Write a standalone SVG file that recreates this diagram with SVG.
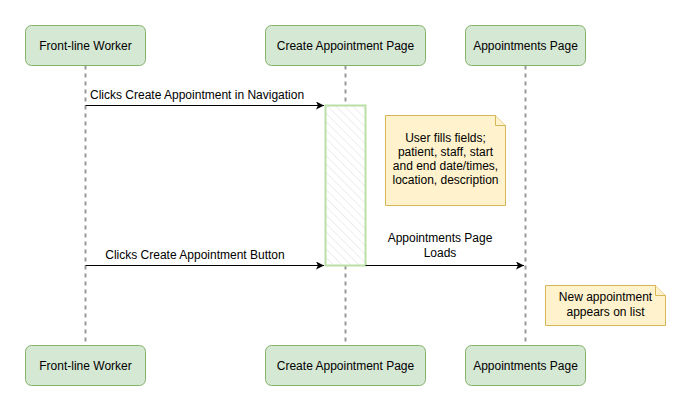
<svg xmlns="http://www.w3.org/2000/svg" width="691" height="411" viewBox="0 0 691 411">
<style>
text{font-family:"Liberation Sans",Arial,sans-serif;font-size:12px;fill:#000}
.actor rect{fill:#d5e8d4;stroke:#82b366;stroke-width:1}
.life{stroke:#999;stroke-width:2;stroke-dasharray:4 4;fill:none}
.msg{stroke:#000;stroke-width:1;fill:none}
.note path{fill:#fff2cc;stroke:#d6b656;stroke-width:1}
</style>
<defs>
<pattern id="hatch" patternUnits="userSpaceOnUse" width="6" height="6" patternTransform="rotate(-45)">
<rect width="6" height="6" fill="#fff"/>
<line x1="0" y1="0" x2="0" y2="6" stroke="#ddd" stroke-width="1"/>
</pattern>
<marker id="arr" markerWidth="10" markerHeight="10" refX="8" refY="4" orient="auto" markerUnits="userSpaceOnUse">
<path d="M0,0 L8,4 L0,8 L2,4 Z" fill="#000"/>
</marker>
</defs>
<g id="lifelines">
<line class="life" x1="85.5" y1="65.5" x2="85.5" y2="345.5"/>
<line class="life" x1="345.5" y1="65.5" x2="345.5" y2="345.5"/>
<line class="life" x1="525.5" y1="65.5" x2="525.5" y2="345.5"/>
</g>
<g id="activation">
<rect x="325.5" y="105.5" width="40" height="160" fill="url(#hatch)" stroke="#b9e0a5" stroke-width="2"/>
</g>
<g id="worker-top" class="actor"><rect x="25.5" y="25.5" width="120" height="40" rx="6"/><text x="85.5" y="49.5" text-anchor="middle">Front-line Worker</text></g>
<g id="create-top" class="actor"><rect x="265.5" y="25.5" width="160" height="40" rx="6"/><text x="345.5" y="49.5" text-anchor="middle">Create Appointment Page</text></g>
<g id="appts-top" class="actor"><rect x="465.5" y="25.5" width="120" height="40" rx="6"/><text x="525.5" y="49.5" text-anchor="middle">Appointments Page</text></g>
<g id="worker-bottom" class="actor"><rect x="25.5" y="345.5" width="120" height="40" rx="6"/><text x="85.5" y="369.5" text-anchor="middle">Front-line Worker</text></g>
<g id="create-bottom" class="actor"><rect x="265.5" y="345.5" width="160" height="40" rx="6"/><text x="345.5" y="369.5" text-anchor="middle">Create Appointment Page</text></g>
<g id="appts-bottom" class="actor"><rect x="465.5" y="345.5" width="120" height="40" rx="6"/><text x="525.5" y="369.5" text-anchor="middle">Appointments Page</text></g>
<g id="note1" class="note">
<path d="M385.5,115.5 H495.5 L505.5,125.5 V205.5 H385.5 Z"/>
<path d="M495.5,115.5 V125.5 H505.5"/>
<text x="445.5" y="142" text-anchor="middle">User fills fields;</text>
<text x="445.5" y="156" text-anchor="middle">patient, staff, start</text>
<text x="445.5" y="170" text-anchor="middle">and end date/times,</text>
<text x="445.5" y="184" text-anchor="middle">location, description</text>
</g>
<g id="note2" class="note">
<path d="M545.5,285.5 H655.5 L665.5,295.5 V325.5 H545.5 Z"/>
<path d="M655.5,285.5 V295.5 H665.5"/>
<text x="605.5" y="301" text-anchor="middle">New appointment</text>
<text x="605.5" y="316" text-anchor="middle">appears on list</text>
</g>
<g id="connectors">
<line class="msg" x1="85.5" y1="105.5" x2="324" y2="105.5" marker-end="url(#arr)"/>
<text x="90" y="99">Clicks Create Appointment in Navigation</text>
<line class="msg" x1="85.5" y1="265.5" x2="324" y2="265.5" marker-end="url(#arr)"/>
<text x="195" y="259" text-anchor="middle">Clicks Create Appointment Button</text>
<line class="msg" x1="365.5" y1="265.5" x2="524" y2="265.5" marker-end="url(#arr)"/>
<text x="440" y="242" text-anchor="middle">Appointments Page</text>
<text x="440" y="257" text-anchor="middle">Loads</text>
</g>
</svg>
